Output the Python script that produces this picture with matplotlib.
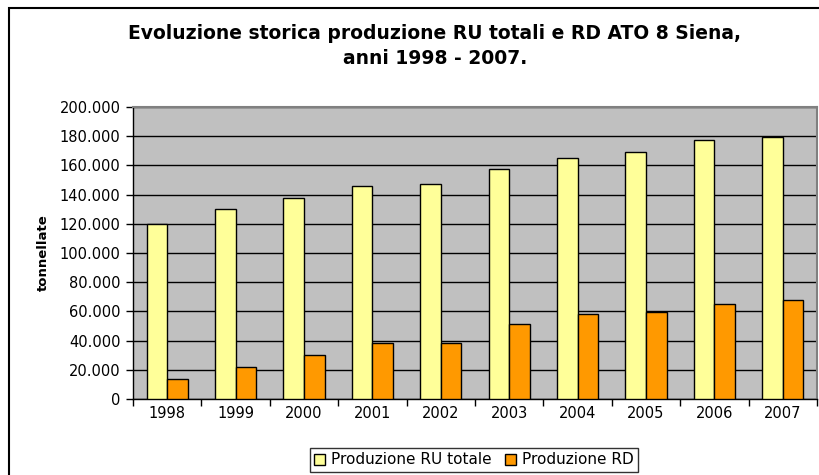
import matplotlib
matplotlib.use("Agg")
import matplotlib.pyplot as plt
from matplotlib.patches import Rectangle
from matplotlib.ticker import FuncFormatter, MultipleLocator
import numpy as np

years = ["1998", "1999", "2000", "2001", "2002", "2003", "2004", "2005", "2006", "2007"]
ru_totale = [120000, 130000, 137700, 146100, 147500, 157800, 164800, 169000, 177200, 179500]
rd = [13700, 21700, 29900, 38400, 38400, 51100, 58000, 59600, 64800, 68000]
series_labels = ["Produzione RU totale", "Produzione RD"]
title = "Evoluzione storica produzione RU totali e RD ATO 8 Siena,\nanni 1998 - 2007."
ylabel = "tonnellate"

plt.rcParams['font.family'] = ['DejaVu Sans']

W, H = 820, 475
fig = plt.figure(figsize=(W/100, H/100), dpi=100)
fig.patch.set_facecolor('white')

# outer frame
fig.patches.append(Rectangle((9.5/W, -0.1), 1.2, 1.1 - 8.5/H, transform=fig.transFigure,
                             fill=False, edgecolor='black', linewidth=1.5, zorder=0))

ax = fig.add_axes([133/W, 1 - 399/H, (817-133)/W, (399-107)/H])
ax.set_facecolor('#C0C0C0')
x = np.arange(len(years))
bw = 0.3
ax.bar(x - bw/2, ru_totale, bw, color='#FFFF99', edgecolor='black', linewidth=1, label=series_labels[0], zorder=3)
ax.bar(x + bw/2, rd, bw, color='#FF9900', edgecolor='black', linewidth=1, label=series_labels[1], zorder=3)

ax.set_xlim(-0.5, len(years) - 0.5)
ax.set_ylim(0, 200000)
ax.yaxis.set_major_locator(MultipleLocator(20000))
ax.yaxis.set_major_formatter(FuncFormatter(lambda v, p: f"{int(v):,}".replace(",", ".")))
ax.grid(axis='y', color='black', linewidth=1, zorder=1)
ax.set_axisbelow(True)

ax.set_xticks(np.arange(-0.5, len(years), 1), minor=False)
ax.set_xticklabels([])
ax.set_xticks(x, minor=True)
ax.set_xticklabels(years, minor=True)
ax.tick_params(axis='x', which='major', direction='out', length=5, width=1, color='black')
ax.tick_params(axis='x', which='minor', length=0, pad=5, labelsize=10.5)
ax.tick_params(axis='y', direction='out', length=5, width=1, labelsize=10.5, pad=4)

for s in ['top', 'right']:
    ax.spines[s].set_color('#808080')
    ax.spines[s].set_linewidth(1.5)
for s in ['left', 'bottom']:
    ax.spines[s].set_color('black')
    ax.spines[s].set_linewidth(1)

ax.set_ylabel(ylabel, fontsize=9.5, fontweight='bold', labelpad=7)

fig.text(435/W, 1 - 46/H, title, ha='center', va='center', fontsize=13.5, fontweight='bold', linespacing=1.45)

leg = fig.legend(loc='center', bbox_to_anchor=(474/W, 1 - 460/H), ncol=2, frameon=True, fancybox=False,
                 edgecolor='black', fontsize=11, handlelength=0.7, handleheight=0.7, handletextpad=0.4,
                 columnspacing=0.9, borderpad=0.3, borderaxespad=0)
leg.get_frame().set_linewidth(1)

fig.savefig("out.png", dpi=100, facecolor='white')
